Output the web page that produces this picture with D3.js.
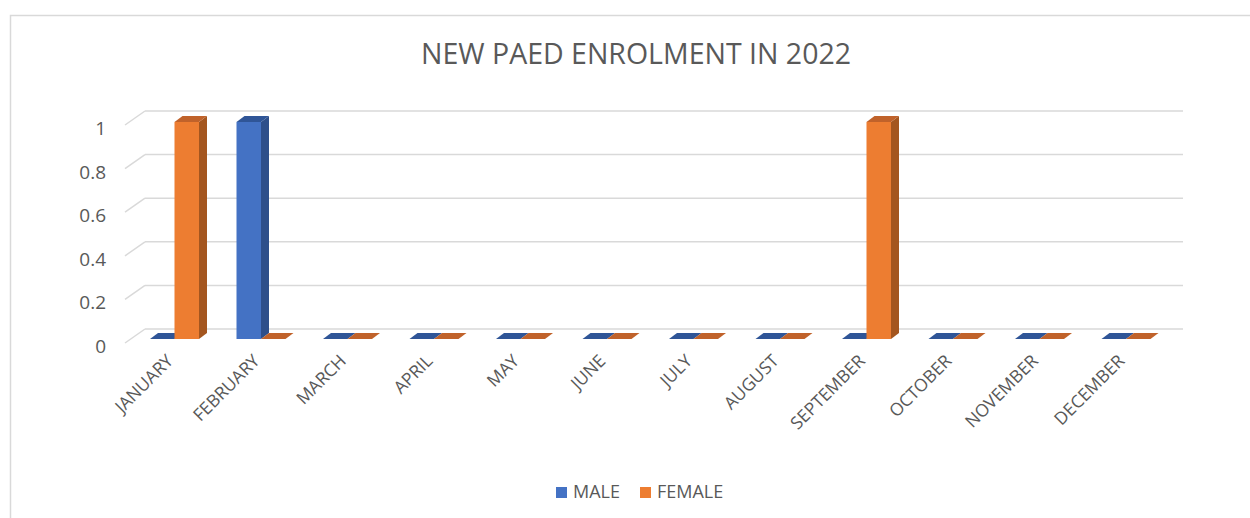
<!DOCTYPE html>
<html>
<head>
<meta charset="utf-8">
<script src="https://cdn.jsdelivr.net/npm/d3@7"></script>
<style>
  body { margin: 0; background: #fff; }
  text { font-family: "Open Sans", "Liberation Sans", sans-serif; fill: #595959; }
</style>
</head>
<body>
<div id="chart"></div>
<script>
var months = ["JANUARY", "FEBRUARY", "MARCH", "APRIL", "MAY", "JUNE",
              "JULY", "AUGUST", "SEPTEMBER", "OCTOBER", "NOVEMBER", "DECEMBER"];
var seriesNames = ["MALE", "FEMALE"];
var maleValues   = [0, 1, 0, 0, 0, 0, 0, 0, 0, 0, 0, 0];
var femaleValues = [1, 0, 0, 0, 0, 0, 0, 0, 1, 0, 0, 0];
var yTicks = [0, 0.2, 0.4, 0.6, 0.8, 1];

var width = 1250,
    height = 518;

// colours: front, side, top
var colors = {
  MALE:   {front: "#4472C4", side: "#2E4F8A", top: "#2F5597"},
  FEMALE: {front: "#ED7D31", side: "#A4561F", top: "#C0622A"}
};

// 3d offsets
var wallDx = 20, wallDy = 14;   // side wall depth
var barDx = 8, barDy = 6;       // bar depth

var svg = d3.select("#chart").append("svg")
  .attr("width", width)
  .attr("height", height);

// chart border
svg.append("rect")
  .attr("x", 10.5).attr("y", 15.5)
  .attr("width", 1300).attr("height", 600)
  .attr("fill", "none")
  .attr("stroke", "#D9D9D9")
  .attr("stroke-width", 1.5);

// scales
var xScale = d3.scaleBand()
  .domain(months)
  .range([125, 1163]);

var xSub = d3.scaleBand()
  .domain(seriesNames)
  .range([25, 74]);

var yBack = d3.scaleLinear()
  .domain([0, 1])
  .range([329, 111]);

var yBar = d3.scaleLinear()
  .domain([0, 1])
  .range([339, 122]);

// gridlines on back wall + diagonals on side wall
var grid = svg.append("g").attr("class", "grid");
grid.selectAll("line.back")
  .data(yTicks)
  .enter().append("line")
    .attr("class", "back")
    .attr("x1", 125 + wallDx).attr("x2", 1163 + wallDx)
    .attr("y1", function(d) { return yBack(d); })
    .attr("y2", function(d) { return yBack(d); })
    .attr("stroke", "#D9D9D9")
    .attr("stroke-width", 1.5);
grid.selectAll("line.side")
  .data(yTicks)
  .enter().append("line")
    .attr("class", "side")
    .attr("x1", 125).attr("x2", 125 + wallDx)
    .attr("y1", function(d) { return yBack(d) + wallDy; })
    .attr("y2", function(d) { return yBack(d); })
    .attr("stroke", "#D9D9D9")
    .attr("stroke-width", 1.5);

// y labels
svg.append("g").selectAll("text")
  .data(yTicks)
  .enter().append("text")
    .attr("x", 106)
    .attr("y", function(d) { return yBack(d) + wallDy + 5; })
    .attr("text-anchor", "end")
    .attr("dominant-baseline", "middle")
    .style("font-size", "19px")
    .text(function(d) { return d; });

// bars
var barData = [];
months.forEach(function(m, i) {
  barData.push({month: m, series: "MALE", value: maleValues[i]});
  barData.push({month: m, series: "FEMALE", value: femaleValues[i]});
});

var bw = xSub.bandwidth();
var bars = svg.append("g").attr("class", "bars")
  .selectAll("g")
  .data(barData)
  .enter().append("g");

bars.each(function(d) {
  var g = d3.select(this);
  var x0 = xScale(d.month) + xSub(d.series),
      x1 = x0 + bw,
      yb = yBar(0),
      yt = yBar(d.value),
      c = colors[d.series];
  if (d.value > 0) {
    g.append("rect")
      .attr("x", x0).attr("y", yt)
      .attr("width", bw).attr("height", yb - yt)
      .attr("fill", c.front);
    g.append("path")
      .attr("d", "M" + x1 + "," + yt + "L" + (x1 + barDx) + "," + (yt - barDy) +
                 "L" + (x1 + barDx) + "," + (yb - barDy) + "L" + x1 + "," + yb + "Z")
      .attr("fill", c.side);
  }
  g.append("path")
    .attr("d", "M" + x0 + "," + yt + "L" + x1 + "," + yt +
               "L" + (x1 + barDx) + "," + (yt - barDy) + "L" + (x0 + barDx) + "," + (yt - barDy) + "Z")
    .attr("fill", c.top);
});

// x labels
svg.append("g").selectAll("text")
  .data(months)
  .enter().append("text")
    .attr("text-anchor", "end")
    .attr("transform", function(d) {
      return "translate(" + (xScale(d) + xScale.bandwidth() / 2 + 6) + ",362) rotate(-45)";
    })
    .style("font-size", "17.5px")
    .text(function(d) { return d; });

// title
svg.append("text")
  .attr("x", 636)
  .attr("y", 64)
  .attr("text-anchor", "middle")
  .style("font-size", "28.5px")
  .text("NEW PAED ENROLMENT IN 2022");

// legend
var legend = svg.append("g").attr("class", "legend");
var legendX = [556, 640];
seriesNames.forEach(function(s, i) {
  legend.append("rect")
    .attr("x", legendX[i]).attr("y", 487)
    .attr("width", 11).attr("height", 11)
    .attr("fill", colors[s].front);
  legend.append("text")
    .attr("x", legendX[i] + 17)
    .attr("y", 498)
    .style("font-size", "18px")
    .text(s);
});
</script>
</body>
</html>
